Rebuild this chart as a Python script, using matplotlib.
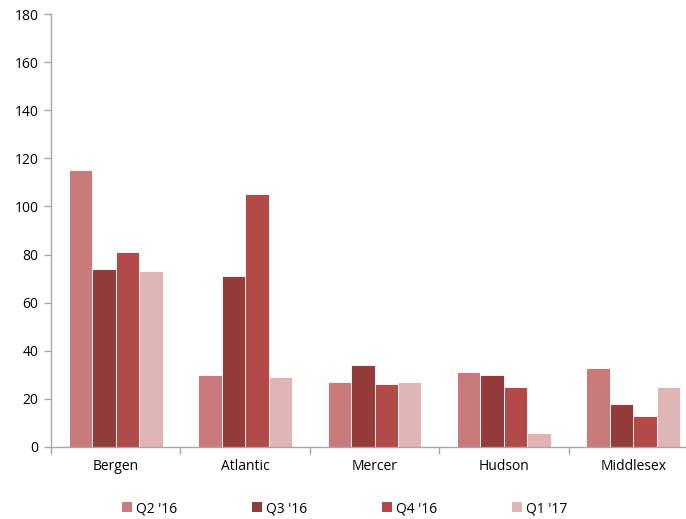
import matplotlib
matplotlib.use("Agg")
import matplotlib.pyplot as plt
import numpy as np
from matplotlib.patches import Patch

counties = ["Bergen", "Atlantic", "Mercer", "Hudson", "Middlesex"]
quarters = ["Q2 '16", "Q3 '16", "Q4 '16", "Q1 '17"]
q2_16 = [115, 30, 27, 31, 33]
q3_16 = [74, 71, 34, 30, 18]
q4_16 = [81, 105, 26, 25, 13]
q1_17 = [73, 29, 27, 6, 25]
series = [q2_16, q3_16, q4_16, q1_17]
colors = ["#C97B7B", "#943B3B", "#B24A4A", "#E0B5B5"]

plt.rcParams["font.family"] = ["Open Sans", "DejaVu Sans"]
grey = "#A6A6A6"

fig = plt.figure(figsize=(6.86, 5.19), dpi=100)
ax = fig.add_axes([51 / 686, 72 / 519, 647 / 686, 433 / 519])

x = np.arange(len(counties))
bar_w = 0.1815
for i, (vals, col) in enumerate(zip(series, colors)):
    offs = (i - 1.5) * bar_w
    ax.bar(x + offs, vals, width=bar_w, color=col, edgecolor="white",
           linewidth=0.6, label=quarters[i])

ax.set_xlim(-0.5, len(counties) - 0.5)
ax.set_ylim(0, 180)
ax.set_yticks(range(0, 181, 20))
ax.set_xticks(x)
ax.set_xticklabels(counties)
ax.set_xticks(np.arange(-0.5, len(counties), 1), minor=True)
ax.tick_params(axis="x", which="major", length=0, pad=9, labelsize=10)
ax.tick_params(axis="x", which="minor", length=5, color=grey, width=1)
ax.tick_params(axis="y", length=5, color=grey, width=1, labelsize=10, pad=4)

for s in ["top", "right"]:
    ax.spines[s].set_visible(False)
for s in ["left", "bottom"]:
    ax.spines[s].set_color(grey)
    ax.spines[s].set_linewidth(1)

handles = [Patch(facecolor=c, edgecolor="none") for c in colors]
fig.legend(handles, quarters, loc="center", bbox_to_anchor=(0.503, 0.02),
           ncol=4, frameon=False, fontsize=10, handlelength=0.7,
           handleheight=0.7, handletextpad=0.3, columnspacing=5.4)

fig.savefig("out.png", dpi=100)
